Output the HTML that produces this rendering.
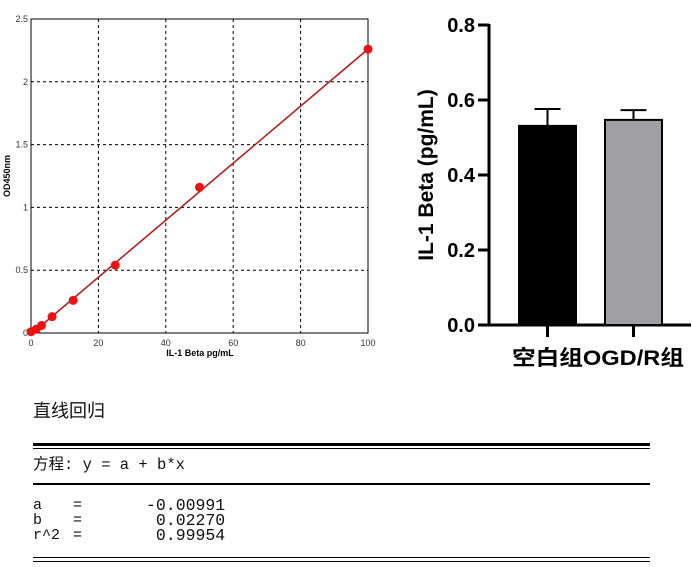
<!DOCTYPE html>
<html><head><meta charset="utf-8"><style>
body{margin:0;background:#fff;width:692px;height:567px;overflow:hidden;position:relative;font-family:"Liberation Sans","Noto Sans CJK SC",sans-serif}
.t{position:absolute;font-family:"Liberation Mono","Noto Sans CJK SC",monospace;font-size:15px;color:#111;white-space:pre;line-height:15px}
.hl{position:absolute;left:33px;width:617px;background:#000}
</style></head><body>
<svg width="692" height="380" style="position:absolute;left:0;top:0">
<g id="std"></g>
<g id="bar"></g>
</svg>
<div class="t" style="left:33px;top:400px;font-size:18px;line-height:20px;font-family:'Noto Sans CJK SC',sans-serif">直线回归</div>
<div class="hl" style="top:443px;height:3px"></div>
<div class="hl" style="top:448px;height:1px"></div>
<div class="t" style="left:33px;top:458px;font-size:15.5px">方程: y = a + b*x</div>
<div class="hl" style="top:483px;height:2px"></div>
<div class="t" style="left:33px;top:498px">a
b
r^2</div>
<div class="t" style="left:73px;top:498px">=
=
=</div>
<div class="t" style="left:146px;top:498px;font-size:16.5px">-0.00991
 0.02270
 0.99954</div>
<div class="hl" style="top:557px;height:1px"></div>
<div class="hl" style="top:561px;height:1px"></div>
<script>
const NS="http://www.w3.org/2000/svg";
function mk(p,t,a,txt){const e=document.createElementNS(NS,t);for(const k in a)e.setAttribute(k,a[k]);if(txt!==undefined)e.textContent=txt;p.appendChild(e);return e;}
// standard curve data
const stdX=[0,1.56,3.12,6.25,12.5,25,50,100];
const stdY=[0.01,0.03,0.06,0.13,0.26,0.54,1.16,2.26];
const fitA=-0.00991, fitB=0.0227;
const xTicks=[0,20,40,60,80,100];
const xTickLabels=["0","20","40","60","80","100"];
const yTicks=[0,0.5,1,1.5,2,2.5];
const yTickLabels=["0","0.5","1","1.5","2","2.5"];
const sx=v=>31+v*(368-31)/100, sy=v=>333-v*(333-19)/2.5;
const g=document.getElementById('std');
let r=mk(g,'rect',{x:31,y:19,width:337,height:314,fill:'none',stroke:'#000','stroke-width':1});


xTicks.forEach((v,i)=>{
 if(v>0&&v<100){let l=mk(g,'line',{x1:sx(v),x2:sx(v),y1:19,y2:333,stroke:'#000','stroke-dasharray':'3,3'});
 
 }
 let t=mk(g,'text',{x:sx(v),y:346,'font-size':9,'text-anchor':'middle',fill:'#333'},xTickLabels[i]);
 
 
});
yTicks.forEach((v,i)=>{
 if(v>0&&v<2.5){let l=mk(g,'line',{x1:31,x2:368,y1:sy(v),y2:sy(v),stroke:'#000','stroke-dasharray':'3,3'});
 
 }
 let t=mk(g,'text',{x:28,y:sy(v)+3,'font-size':9,'text-anchor':'end',fill:'#333'},yTickLabels[i]);
 
 
});
let fl=mk(g,'line',{x1:sx(0),y1:sy(fitA),x2:sx(100),y2:sy(fitA+fitB*100),stroke:'#b01818','stroke-width':1.5});


stdX.forEach((v,i)=>{let c=mk(g,'circle',{cx:sx(v),cy:sy(stdY[i]),r:4.5,fill:'#ee1111'});
 
 });
let xl=mk(g,'text',{x:200,y:356,'font-size':9,'font-weight':'bold','text-anchor':'middle'},'IL-1 Beta pg/mL');


let yl=mk(g,'text',{x:10,y:176,'font-size':9,'font-weight':'bold','text-anchor':'middle',transform:'rotate(-90 10 176)'},'OD450nm');



// bar chart data
const barCats=["空白组","OGD/R组"];
const barVals=[0.531,0.547];
const barErr=[0.045,0.026];
const barTicks=[0,0.2,0.4,0.6,0.8];
const barTickLabels=["0.0","0.2","0.4","0.6","0.8"];
const barFill=["#000","#a0a0a4"];
const by=v=>325-v*375, bx0=[519,605], bw=57;
const b=document.getElementById('bar');
let ax=mk(b,'line',{x1:489,x2:489,y1:24,y2:326,stroke:'#000','stroke-width':3});


let bl=mk(b,'line',{x1:488,x2:691,y1:325,y2:325,stroke:'#000','stroke-width':3});


barTicks.forEach((v,i)=>{
 let l=mk(b,'line',{x1:478,x2:489,y1:by(v),y2:by(v),stroke:'#000','stroke-width':3});
 
 
 let t=mk(b,'text',{x:475,y:by(v)+7,'font-size':20,'font-weight':'bold','text-anchor':'end'},barTickLabels[i]);
 
 
});
barVals.forEach((v,i)=>{
 const x=bx0[i],cx=x+bw/2;
 let e=mk(b,'line',{x1:cx,x2:cx,y1:by(v),y2:by(v+barErr[i]),stroke:'#000','stroke-width':2});
 
 
 let c=mk(b,'line',{x1:cx-13,x2:cx+13,y1:by(v+barErr[i]),y2:by(v+barErr[i]),stroke:'#000','stroke-width':2});
 
 
 let rr=mk(b,'rect',{x:x,y:by(v),width:bw,height:by(0)-by(v),fill:barFill[i],stroke:'#000','stroke-width':2});
 
 
 let tk=mk(b,'line',{x1:cx,x2:cx,y1:325,y2:337,stroke:'#000','stroke-width':3});
 
 
});
let cl=mk(b,'text',{x:512,y:365,'font-size':21,'font-weight':'bold',textLength:172,lengthAdjust:'spacingAndGlyphs'},barCats.join(''));


let yt=mk(b,'text',{x:433,y:175,'font-size':21,'font-weight':'bold','text-anchor':'middle',transform:'rotate(-90 433 175)'},'IL-1 Beta (pg/mL)');


</script>
</body></html>
